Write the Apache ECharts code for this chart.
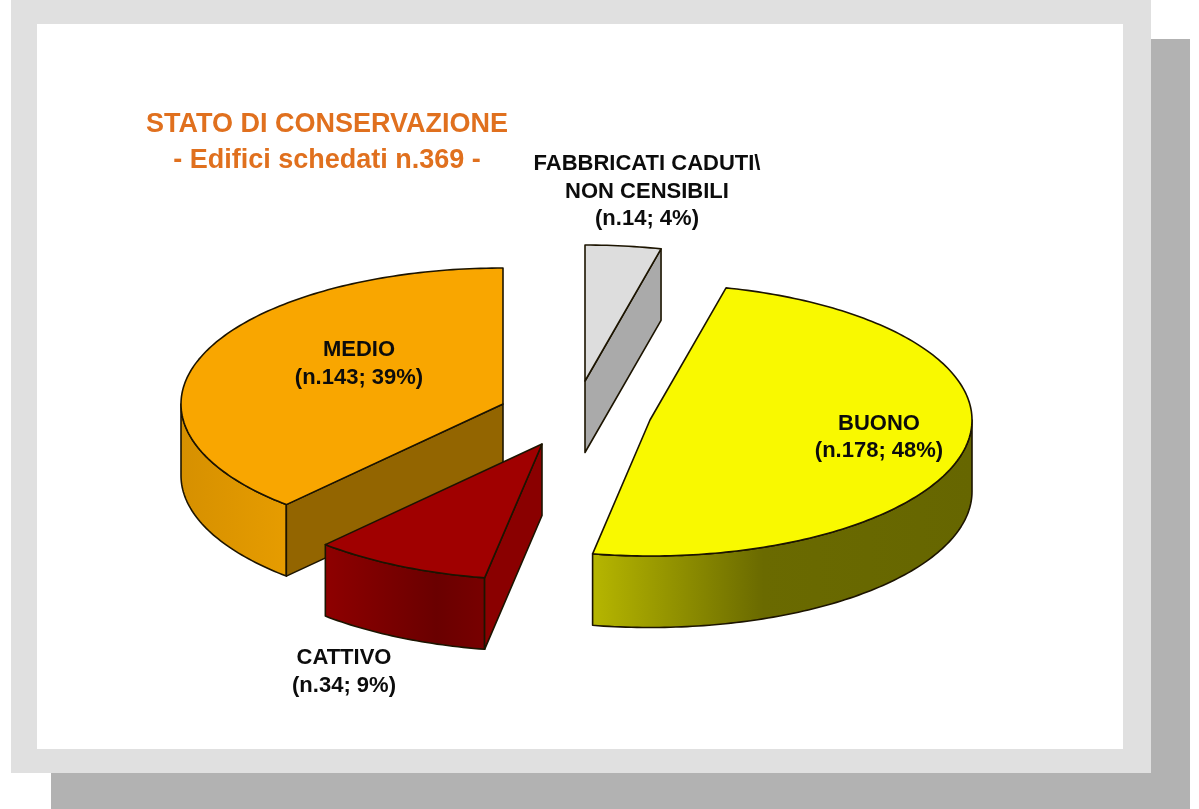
<!DOCTYPE html>
<html>
<head>
<meta charset="utf-8">
<style>html,body{margin:0;padding:0;background:#fff}#chart{width:1199px;height:809px}</style>
<script src="https://cdn.jsdelivr.net/npm/echarts@6/dist/echarts.min.js"></script>
</head>
<body>
<div id="chart"></div>
<script>
// Data
const categories = ['FABBRICATI CADUTI\\\nNON CENSIBILI', 'BUONO', 'CATTIVO', 'MEDIO'];
const values = [14, 178, 34, 143];
const titleLines = ['STATO DI CONSERVAZIONE', '- Edifici schedati n.369 -'];

// Presentation: one entry per slice, same order as the data
const apexes = [[585, 381], [650, 420], [542, 444], [503, 404]];
const labelCenters = [[647, 191.5], [879, 437.5], [344, 672], [359, 364]];
const topColors = ['#DDDDDD', '#F9F900', '#A00000', '#F9A600'];
const arcStops = [
  [{ offset: 0, color: '#AAAAAA' }, { offset: 1, color: '#AAAAAA' }],
  [{ offset: 0, color: '#B6B600' }, { offset: 0.45, color: '#6A6A00' }, { offset: 1, color: '#666600' }],
  [{ offset: 0, color: '#8E0000' }, { offset: 0.7, color: '#6A0000' }, { offset: 1, color: '#780000' }],
  [{ offset: 0, color: '#D69000' }, { offset: 1, color: '#E69C00' }]
];
const cutColors = ['#AAAAAA', '#666600', '#8A0000', '#936500'];
const drawOrder = [3, 2, 1, 0];
const RX = 322, RY = 136, DEPTH = 71.5;

const total = values.reduce((a, b) => a + b, 0);
const starts = [];
values.reduce((acc, v, i) => { starts[i] = acc; return acc + v; }, 0);

const toAngle = share => {
  const t = share * 2 * Math.PI;
  const k = Math.pow((1 - Math.cos(t)) / 2, 4);
  return t + k * 3 * Math.PI / 180;   // slight perspective distortion of the front
};
const pointAt = (apex, t) => [
  apex[0] + RX * Math.sin(t),
  apex[1] - RY * Math.cos(t)
];
const arcPoints = (apex, a, b) => {
  const n = Math.max(2, Math.ceil(Math.abs(b - a) / (Math.PI / 180)));
  const pts = [];
  for (let i = 0; i <= n; i++) pts.push(pointAt(apex, a + (b - a) * i / n));
  return pts;
};
const edge = { stroke: '#1c1400', lineWidth: 1.6, lineJoin: 'round' };

function renderSlice(params, api) {
  const i = api.value(0);
  const apex = apexes[i];
  const a = toAngle(api.value(1) / total);
  const b = toAngle((api.value(1) + api.value(2)) / total);
  const children = [];
  const face = (points, fill) => children.push({
    type: 'polygon', shape: { points }, style: Object.assign({ fill }, edge)
  });
  const low = p => [p[0], p[1] + DEPTH];

  // outer wall (front half of the ellipse only)
  const wa = Math.max(a, Math.PI / 2), wb = Math.min(b, 3 * Math.PI / 2);
  if (wb > wa) {
    const rim = arcPoints(apex, wa, wb);
    const xs = rim.map(p => p[0]);
    const fill = {
      type: 'linear', global: true,
      x: Math.min.apply(null, xs), y: 0, x2: Math.max.apply(null, xs), y2: 0,
      colorStops: arcStops[i]
    };
    face(rim.concat(rim.slice().reverse().map(low)), fill);
  }
  // cut faces that turn towards the viewer
  const cut = t => {
    const p = pointAt(apex, t);
    face([apex, p, low(p), low(apex)], cutColors[i]);
  };
  if (Math.sin(a) < -0.01) cut(a);
  if (Math.sin(b) > 0.01) cut(b);
  // top face
  face([apex].concat(arcPoints(apex, a, b)), topColors[i]);
  // label
  children.push({
    type: 'text',
    style: {
      x: labelCenters[i][0], y: labelCenters[i][1],
      text: categories[i] + '\n(n.' + values[i] + '; ' + Math.round(values[i] / total * 100) + '%)',
      fill: '#0c0c0c', align: 'center', verticalAlign: 'middle',
      font: 'bold 22px "Liberation Sans", Arial, sans-serif', lineHeight: 27.5
    }
  });
  return { type: 'group', children };
}

const chart = echarts.init(document.getElementById('chart'), null, { renderer: 'canvas' });
chart.setOption({
  animation: false,
  title: {
    text: titleLines.join('\n'),
    left: 322, top: 102, textAlign: 'center',
    textStyle: { color: '#E0701E', fontFamily: '"Liberation Sans", Arial, sans-serif', fontWeight: 'bold', fontSize: 27, lineHeight: 36 }
  },
  graphic: [
    { type: 'rect', z: -10, silent: true, shape: { x: 51, y: 39, width: 1139, height: 770 }, style: { fill: '#B2B2B2' } },
    { type: 'rect', z: -9, silent: true, shape: { x: 11, y: 0, width: 1140, height: 773 }, style: { fill: '#E0E0E0' } },
    { type: 'rect', z: -8, silent: true, shape: { x: 37, y: 24, width: 1086, height: 725 }, style: { fill: '#FFFFFF' } }
  ],
  series: [{
    type: 'custom',
    coordinateSystem: 'none',
    renderItem: renderSlice,
    silent: true,
    data: drawOrder.map(i => ({ name: categories[i], value: [i, starts[i], values[i]] }))
  }]
});
</script>
</body>
</html>
